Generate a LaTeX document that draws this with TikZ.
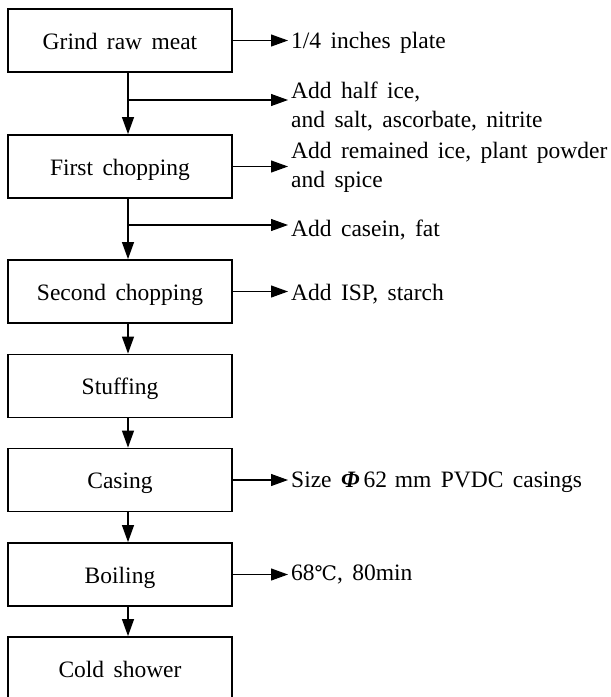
\documentclass[tikz,border=0pt]{standalone}
\usepackage{fontspec}
\setmainfont[WordSpace=1.6]{Liberation Serif}
\newfontfamily\symfont{DejaVu Serif}
\usetikzlibrary{arrows.meta}
\newcommand\tlines[2]{\vtop{\baselineskip=29.5pt\hbox{#1}\hbox{#2}}}
\begin{document}
\begin{tikzpicture}[x=1pt,y=-1pt,
  every node/.style={font=\fontsize{23.5}{28}\selectfont},
  stepbox/.style={draw, line width=1.8pt, minimum width=224pt, minimum height=63pt,
    inner sep=0pt, text height=17pt, text depth=0pt},
  lab/.style={anchor=base west, inner sep=0pt},
  arr/.style={line width=1.1pt, -{Triangle[length=17pt,width=12pt]}},
  side/.style={arr, shorten >=3pt}]
\clip (0,0) rectangle (611,697);
% process boxes
\node[stepbox] (b1) at (120,40.5)  {Grind raw meat};
\node[stepbox] (b2) at (120,166.5) {First chopping};
\node[stepbox] (b3) at (120,291.5) {Second chopping};
\node[stepbox] (b4) at (120,386)   {Stuffing};
\node[stepbox] (b5) at (120,480)   {Casing};
\node[stepbox] (b6) at (120,574.5) {Boiling};
\node[stepbox, minimum height=64pt] (b7) at (120,669) {Cold shower};
% side labels
\node[lab] (l1) at (291,48)  {1/4 inches plate};
\node[lab] (l2) at (291,98)  {\tlines{Add half ice,}{and salt, ascorbate, nitrite}};
\node[lab] (l3) at (291,158) {\tlines{Add remained ice, plant powder}{and spice}};
\node[lab] (l4) at (291,236) {Add casein, fat};
\node[lab] (l5) at (291,300) {Add ISP, starch};
\node[lab] (l6) at (291,487) {Size \textbf{\textit{Φ}}\,62\,\,mm PVDC casings};
\node[lab] (l7) at (291,580) {68{\symfont\fontsize{20}{22}\selectfont ℃}, 80min};
% trunk
\coordinate (tx) at (128,0);
\coordinate (j1) at (128,100);
\coordinate (j2) at (128,225);
\draw[arr] (b1.south -| tx) -- (b2.north -| tx);
\draw[arr] (b2.south -| tx) -- (b3.north -| tx);
\draw[arr] (b3.south -| tx) -- (b4.north -| tx);
\draw[arr] (b4.south -| tx) -- (b5.north -| tx);
\draw[arr] (b5.south -| tx) -- (b6.north -| tx);
\draw[arr] (b6.south -| tx) -- (b7.north -| tx);
% side arrows
\draw[side] (b1.east) -- (b1.east -| l1.west);
\draw[side] (j1) -- (j1 -| l2.west);
\draw[side] (b2.east) -- (b2.east -| l3.west);
\draw[side] (j2) -- (j2 -| l4.west);
\draw[side] (b3.east) -- (b3.east -| l5.west);
\draw[side] (b5.east) -- (b5.east -| l6.west);
\draw[side] (b6.east) -- (b6.east -| l7.west);
\end{tikzpicture}
\end{document}
